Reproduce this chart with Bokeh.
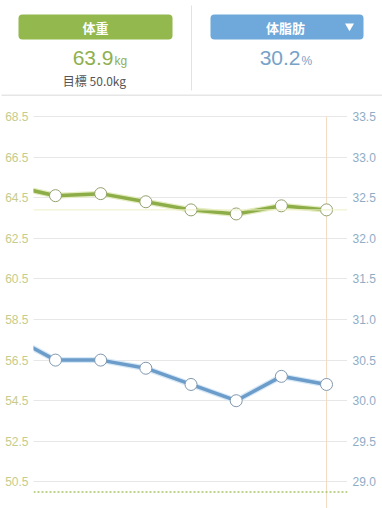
from bokeh.plotting import figure
from bokeh.models import Range1d, LinearAxis, FixedTicker, Span, ColumnDataSource, Spacer
from bokeh.layouts import column, row
from bokeh.core.properties import value
from bokeh.embed import file_html
from bokeh.resources import INLINE

# ---- data ----
idx = [-1, 0, 1, 2, 3, 4, 5, 6]
weight = [65.1, 64.6, 64.7, 64.3, 63.9, 63.7, 64.1, 63.9]
bodyfat = [30.8, 30.5, 30.5, 30.4, 30.2, 30.0, 30.3, 30.2]
kg_ticks = [50.5, 52.5, 54.5, 56.5, 58.5, 60.5, 62.5, 64.5, 66.5, 68.5]
pct_ticks = [29.0, 29.5, 30.0, 30.5, 31.0, 31.5, 32.0, 32.5, 33.0, 33.5]
target_kg = 50.0
latest_kg = 63.9
latest_pct = 30.2
latest_idx = 6

FONT = "Liberation Sans"
JP = "Noto Sans CJK JP"
GREEN = "#93b84d"
BLUE = "#6fa8da"

# ---- header ----
HW, HH = 381, 96
h = figure(width=HW, height=HH, x_range=Range1d(1, 1 + HW), y_range=Range1d(HH, 0),
           output_backend="svg", toolbar_location=None,
           min_border=0, min_border_left=0, min_border_right=0,
           min_border_top=0, min_border_bottom=0)
h.axis.visible = False
h.grid.visible = False
h.outline_line_color = None

h.quad(left=[18, 210], right=[172, 363], top=[14, 14], bottom=[39, 39],
       fill_color=[GREEN, BLUE], line_color=None, border_radius=4)
h.text(x=[95, 285], y=[27, 27], text=["体重", "体脂肪"], text_color="white",
       text_font=value(JP), text_font_size="13px", text_font_style="bold",
       text_align="center", text_baseline="middle")
h.scatter(x=[349], y=[25.5], marker="inverted_triangle", size=9,
          fill_color="white", line_color=None)
h.text(x=[113], y=[57.5], text=[f"{latest_kg:.1f}"], text_color="#8fb04f",
       text_font=value(FONT), text_font_size="21px",
       text_align="right", text_baseline="middle")
h.text(x=[114], y=[60.8], text=["kg"], text_color="#8fb04f",
       text_font=value(FONT), text_font_size="12px",
       text_align="left", text_baseline="middle")
h.text(x=[300], y=[57.5], text=[f"{latest_pct:.1f}"], text_color="#78a2c8",
       text_font=value(FONT), text_font_size="21px",
       text_align="right", text_baseline="middle")
h.text(x=[301], y=[60.8], text=["%"], text_color="#78a2c8",
       text_font=value(FONT), text_font_size="12px",
       text_align="left", text_baseline="middle")
h.text(x=[94], y=[80], text=[f"目標 {target_kg:.1f}kg"], text_color="#555555",
       text_font=value(JP), text_font_size="12px",
       text_align="center", text_baseline="middle")
h.segment(x0=[191], y0=[5], x1=[191], y1=[90], line_color="#e2e2e2", line_width=1)
h.segment(x0=[0], y0=[95], x1=[383], y1=[95], line_color="#e6e6e6", line_width=2)

# ---- chart ----
ky0, ky1 = 49.19, 69.288
p = figure(width=381, height=412, x_range=Range1d(-0.487, 6.464),
           y_range=Range1d(ky0, ky1), output_backend="svg", toolbar_location=None,
           min_border_left=33, min_border_right=34, min_border_top=4, min_border_bottom=0)
p.outline_line_color = None
p.xaxis.visible = False
p.xgrid.visible = False
p.ygrid.ticker = FixedTicker(ticks=kg_ticks)
p.ygrid.grid_line_color = "#cfcfcf"
p.ygrid.grid_line_dash = "1 1"

p.extra_y_ranges = {"pct": Range1d(ky0 / 4 + 16.375, ky1 / 4 + 16.375)}

la = p.yaxis[0]
la.ticker = FixedTicker(ticks=kg_ticks)
la.major_label_overrides = {t: f"{t:.1f}" for t in kg_ticks}
ra = LinearAxis(y_range_name="pct", ticker=FixedTicker(ticks=pct_ticks))
ra.major_label_overrides = {t: f"{t:.1f}" for t in pct_ticks}
p.add_layout(ra, "right")
for ax, col in ((la, "#c5cc8c"), (ra, "#8fadc6")):
    ax.axis_line_color = None
    ax.major_tick_line_color = None
    ax.minor_tick_line_color = None
    ax.major_tick_out = 0
    ax.major_tick_in = 0
    ax.major_label_standoff = 5
    ax.major_label_text_color = col
    ax.major_label_text_font = FONT
    ax.major_label_text_font_size = "12px"

p.add_layout(Span(location=latest_kg, dimension="width", line_color="#eef0c6", line_width=1))
p.add_layout(Span(location=target_kg, dimension="width", line_color="#a8c465",
                  line_width=1.5, line_dash="2 2"))
p.segment(x0=[latest_idx], y0=[kg_ticks[-1]], x1=[latest_idx], y1=[ky0],
          line_color="#f2dcc0", line_width=1)

src = ColumnDataSource(dict(x=idx, w=weight, f=bodyfat))
p.line("x", "w", source=src, line_color="#e4ecc0", line_width=6)
p.line("x", "w", source=src, line_color="#8cad47", line_width=3.5)
p.scatter("x", "w", source=src, size=12, fill_color="white", line_color="#93a06e", line_width=1)

p.line("x", "f", source=src, y_range_name="pct", line_color="#d6e8f6", line_width=6)
p.line("x", "f", source=src, y_range_name="pct", line_color="#6b9cca", line_width=3.5)
p.scatter("x", "f", source=src, y_range_name="pct", size=12, fill_color="white",
          line_color="#8098ae", line_width=1)

lay = column(row(Spacer(width=1, height=HH), h, spacing=0), p, spacing=0)
open("out.html", "w").write(file_html(lay, INLINE))
